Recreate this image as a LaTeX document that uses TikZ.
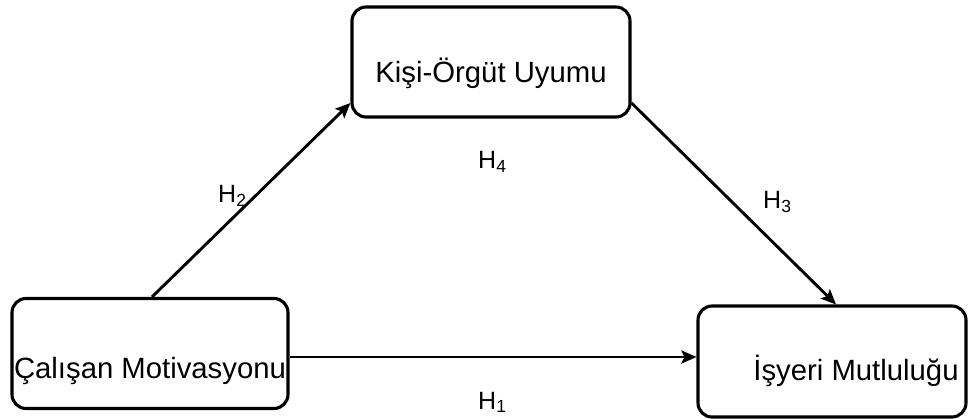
\documentclass[tikz,border=0pt]{standalone}
\usepackage{fontspec}
\setmainfont{Liberation Sans}
\usetikzlibrary{arrows.meta}

\begin{document}
\begin{tikzpicture}[x=1pt,y=-1pt,
  box/.style={draw=black, line width=3.1pt, rounded corners=14pt, fill=white,
    inner sep=0pt},
  boxtext/.style={font=\fontsize{29.3}{31}\selectfont, inner sep=0pt, anchor=base},
  hlabel/.style={font=\fontsize{25}{27}\selectfont, inner sep=0pt, anchor=base west},
  arr/.style={line width=2.9pt, -{Stealth[length=15pt,width=13pt,inset=3pt]}}]

  % canvas
  \useasboundingbox (0,0) rectangle (968,419);

  % the three constructs
  \node[box, minimum width=278pt, minimum height=110pt] (km) at (491,62) {};
  \node[box, minimum width=276pt, minimum height=110pt] (cm) at (150,353.5) {};
  \node[box, minimum width=268pt, minimum height=111pt] (im) at (832,361.5) {};

  \node[boxtext] (kmt) at (491,83) {Kişi-Örgüt Uyumu};
  \node[boxtext] (cmt) at (150,378) {Çalışan Motivasyonu};
  \node[boxtext] (imt) at (856,380) {İşyeri Mutluluğu};

  % attachment points on the box borders
  \coordinate (kmL) at (km.west |- 0,103);
  \coordinate (kmR) at (km.east |- 0,103);
  \coordinate (cmT) at (152,0 |- cm.north);
  \coordinate (imT) at (836,0 |- im.north);
  \coordinate (cmR) at (cm.east |- 0,357);
  \coordinate (imL) at (im.west |- 0,357);

  % hypothesised paths
  \draw[arr] (cmT) -- (kmL);
  \draw[arr] (kmR) -- (imT);
  \draw[arr] (cmR) -- (imL);

  % hypothesis labels
  \node[hlabel] (h2) at (218,203) {H\textsubscript{2}};
  \node[hlabel] (h4) at (478,169) {H\textsubscript{4}};
  \node[hlabel] (h3) at (763,209) {H\textsubscript{3}};
  \node[hlabel] (h1) at (478,409) {H\textsubscript{1}};
\end{tikzpicture}
\end{document}
